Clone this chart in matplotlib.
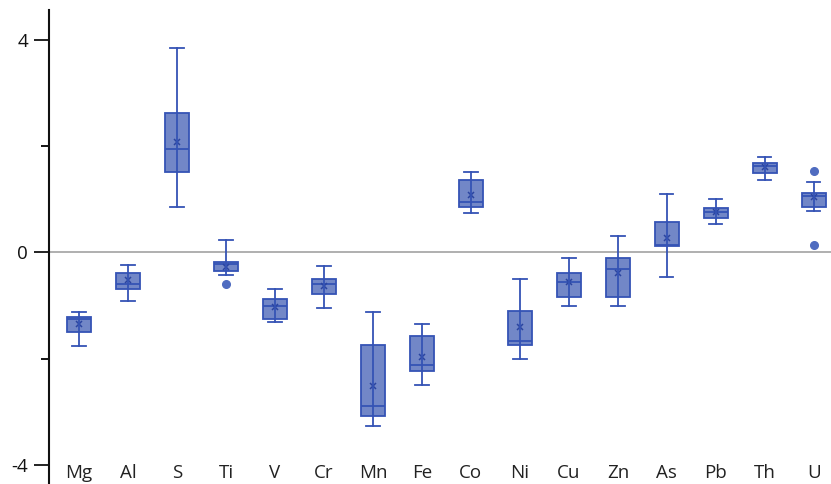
import matplotlib

matplotlib.use("Agg")

import matplotlib.pyplot as plt

elements = ["Mg", "Al", "S", "Ti", "V", "Cr", "Mn", "Fe", "Co", "Ni",
            "Cu", "Zn", "As", "Pb", "Th", "U"]

whisker_lo = [-1.77, -0.91, 0.85, -0.42, -1.31, -1.05, -3.26, -2.49, 0.74, -2.01,
              -1.01, -1.00, -0.47, 0.54, 1.36, 0.78]
q1 = [-1.50, -0.68, 1.52, -0.34, -1.25, -0.78, -3.07, -2.23, 0.86, -1.75,
      -0.83, -0.84, 0.13, 0.65, 1.49, 0.85]
median = [-1.26, -0.59, 1.95, -0.22, -1.01, -0.59, -2.89, -2.12, 0.96, -1.67,
          -0.56, -0.32, 0.15, 0.76, 1.62, 1.06]
q3 = [-1.21, -0.39, 2.63, -0.17, -0.87, -0.49, -1.75, -1.57, 1.36, -1.11,
      -0.39, -0.10, 0.58, 0.84, 1.69, 1.12]
whisker_hi = [-1.12, -0.23, 3.85, 0.24, -0.69, -0.25, -1.12, -1.35, 1.52, -0.49,
              -0.10, 0.31, 1.11, 1.00, 1.80, 1.33]
mean = [-1.35, -0.51, 2.08, -0.28, -1.03, -0.63, -2.51, -1.96, 1.08, -1.41,
        -0.55, -0.39, 0.28, 0.76, 1.61, 1.05]
outliers = [[], [], [], [-0.59], [], [], [], [], [], [],
            [], [], [], [], [], [1.53, 0.14]]

edge = "#3553b5"
face = "#7287c7"

stats = []
for i, name in enumerate(elements):
    stats.append({
        "label": name,
        "whislo": whisker_lo[i],
        "q1": q1[i],
        "med": median[i],
        "q3": q3[i],
        "whishi": whisker_hi[i],
        "mean": mean[i],
        "fliers": outliers[i],
    })

fig = plt.figure(figsize=(8.31, 4.84), dpi=100)
ax = fig.add_axes([49 / 831, 0, 782 / 831, 474 / 484])

positions = list(range(1, len(elements) + 1))
ax.axhline(0, color="#9a9a9a", lw=1.1, zorder=0)

ax.bxp(
    stats,
    positions=positions,
    widths=0.49,
    capwidths=0.27,
    patch_artist=True,
    showmeans=True,
    boxprops=dict(facecolor=face, edgecolor=edge, linewidth=1.3),
    whiskerprops=dict(color=edge, linewidth=1.3),
    capprops=dict(color=edge, linewidth=1.3),
    medianprops=dict(color=edge, linewidth=1.3),
    meanprops=dict(marker="x", markeredgecolor="#2a44a0", markersize=5,
                   markeredgewidth=1.1),
    flierprops=dict(marker="o", markerfacecolor="#4f6cc0", markeredgecolor="#4f6cc0",
                    markersize=5.5),
)

# whiskers drawn through the box, as in the reference
for i, p in enumerate(positions):
    ax.plot([p, p], [q1[i], q3[i]], color=edge, lw=1.3, zorder=3)

for p, name in zip(positions, elements):
    ax.text(p, -4.15, name, ha="center", va="center", fontsize=13.5,
            family="Open Sans", color="#222222")

ax.set_xlim(0.388, 16.35)
ax.set_ylim(-4.36, 4.567)
ax.set_xticks([])
ax.set_yticks([-4, 0, 4])
ax.set_yticklabels(["-4", "0", "4"], family="Open Sans", fontsize=13.5)
ax.set_yticks([-2, 2], minor=True)
ax.tick_params(axis="y", which="major", length=11, width=1.3, pad=4, colors="#111111")
ax.tick_params(axis="y", which="minor", length=6, width=1.3)

for side in ["top", "right", "bottom"]:
    ax.spines[side].set_visible(False)
ax.spines["left"].set_linewidth(1.5)
ax.spines["left"].set_color("#111111")

fig.savefig("out.png", dpi=100)
